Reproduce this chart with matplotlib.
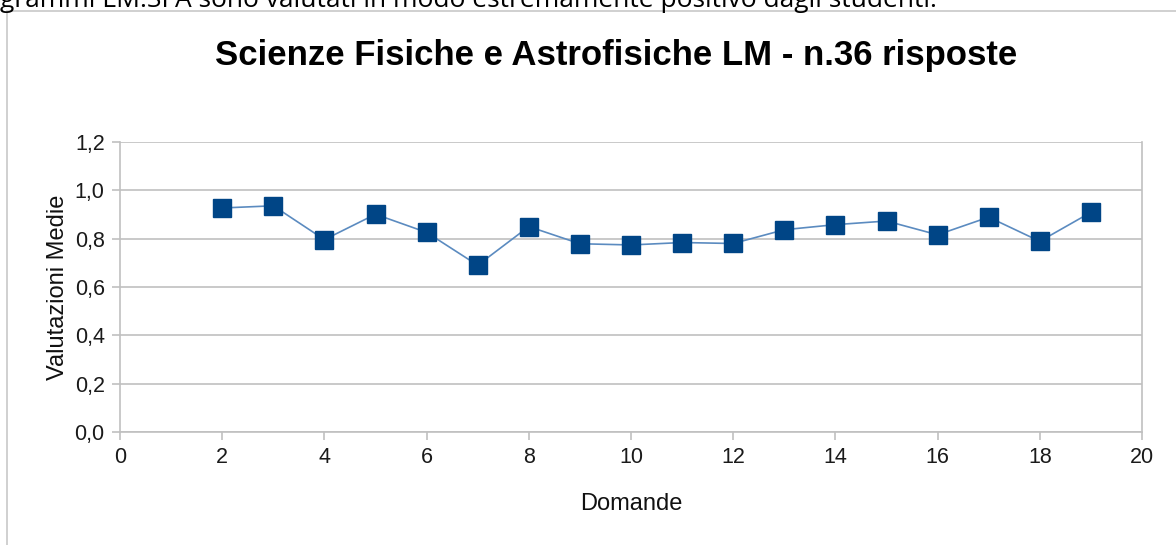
import matplotlib
matplotlib.use("Agg")
import matplotlib.pyplot as plt
from matplotlib.patches import Rectangle
from matplotlib.ticker import FuncFormatter

domande = [2, 3, 4, 5, 6, 7, 8, 9, 10, 11, 12, 13, 14, 15, 16, 17, 18, 19]
medie = [0.927, 0.936, 0.796, 0.901, 0.826, 0.690, 0.850, 0.779, 0.774,
         0.784, 0.780, 0.837, 0.858, 0.873, 0.816, 0.889, 0.789, 0.909]

titolo = "Scienze Fisiche e Astrofisiche LM - n.36 risposte"
testo_sopra = "grammi LM.SFA sono valutati in modo estremamente positivo dagli studenti."

plt.rcParams['font.family'] = ['Liberation Sans', 'DejaVu Sans']

fig = plt.figure(figsize=(11.76, 5.45), dpi=100)

# riga di testo del documento, tagliata in alto
fig.text(0.0, 1 - 7 / 545, testo_sopra, fontsize=19, family='Open Sans',
         ha='left', va='baseline', color='black')

# cornice del grafico
fig.patches.append(Rectangle((7 / 1176, -0.01), 1.0, 1 - 11 / 545 + 0.01,
                             transform=fig.transFigure, fill=False,
                             edgecolor='#c8c8c8', linewidth=1.2))

ax = fig.add_axes([120 / 1176, 1 - 432 / 545, 1022 / 1176, 290 / 545])

ax.plot(domande, medie, color='#5b8bc0', linewidth=1.2,
        marker='s', markersize=13, markerfacecolor='#004586',
        markeredgecolor='#004586', zorder=3)

ax.set_xlim(0, 20)
ax.set_ylim(0, 1.2)
ax.set_xticks(range(0, 21, 2))
ax.set_yticks([0, 0.2, 0.4, 0.6, 0.8, 1.0, 1.2])
ax.yaxis.set_major_formatter(FuncFormatter(lambda v, p: f"{v:.1f}".replace('.', ',')))

ax.grid(axis='y', color='#c0c0c0', linewidth=1.2)
ax.set_axisbelow(True)
for s in ax.spines.values():
    s.set_color('#c0c0c0')
    s.set_linewidth(1.2)
ax.spines['top'].set_visible(False)

ax.tick_params(axis='both', colors='#c0c0c0', labelcolor='#1a1a1a',
               labelsize=15.5, length=6, width=1.2)
ax.tick_params(axis='y', pad=5)
ax.tick_params(axis='x', pad=5)

ax.set_xlabel('Domande', fontsize=17, color='#111111', labelpad=18)
ax.set_ylabel('Valutazioni Medie', fontsize=17, color='#111111', labelpad=4)

fig.text(616 / 1176, 1 - 55 / 545, titolo, fontsize=25, fontweight='bold',
         ha='center', va='center', color='black')

fig.savefig('out.png', dpi=100)
